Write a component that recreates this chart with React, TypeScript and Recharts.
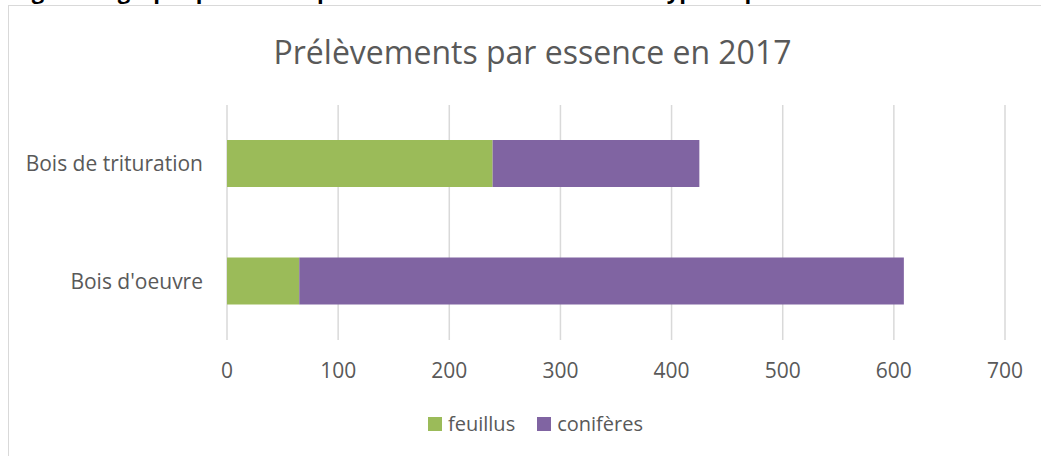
import { BarChart, Bar, XAxis, YAxis, CartesianGrid, Legend } from 'recharts';

// Prélèvements 2017
const categories = ['Bois de trituration', "Bois d'oeuvre"];
const feuillus = [239, 65];
const coniferes = [186, 544];
const xTicks = [0, 100, 200, 300, 400, 500, 600, 700];

const GREEN = '#9BBB59';
const PURPLE = '#8064A2';
const TEXT = '#595959';
const FONT = '"Open Sans", "Noto Sans", sans-serif';

const data = categories.map((type, i) => ({
  type,
  feuillus: feuillus[i],
  coniferes: coniferes[i],
}));

const legendItems = [
  { label: 'feuillus', color: GREEN },
  { label: 'conifères', color: PURPLE },
];

function LegendContent() {
  return (
    <div style={{ display: 'flex', justifyContent: 'center', alignItems: 'center', fontFamily: FONT, fontSize: 20, color: TEXT }}>
      {legendItems.map((it, i) => (
        <div key={it.label} style={{ display: 'flex', alignItems: 'center', marginRight: i === 0 ? 22 : 0 }}>
          <span style={{ width: 14, height: 14, background: it.color, display: 'inline-block', marginRight: 6 }} />
          <span>{it.label}</span>
        </div>
      ))}
    </div>
  );
}

export default function App() {
  return (
    <div style={{ position: 'absolute', left: 0, top: 0, width: 1041, height: 456, overflow: 'hidden', background: '#fff' }}>
      <div
        style={{
          position: 'absolute', left: 13, top: -21, fontFamily: FONT, fontWeight: 700,
          fontSize: 22, lineHeight: '22px', color: '#000', whiteSpace: 'nowrap',
        }}
      >
        Figure 4 : graphique de la répartition des essences selon le type de prélèvement
      </div>
      <div
        style={{
          position: 'absolute', left: 8, top: 5, width: 1100, height: 500,
          border: '1.5px solid #d9d9d9', boxSizing: 'border-box',
        }}
      />
      <div
        style={{
          position: 'absolute', left: 0, top: 31, width: 1065, textAlign: 'center',
          fontFamily: FONT, fontSize: 32, color: TEXT, lineHeight: '42px',
        }}
      >
        Prélèvements par essence en 2017
      </div>
      <div style={{ position: 'absolute', left: 0, top: 0 }}>
        <BarChart
          width={1041}
          height={456}
          data={data}
          layout="vertical"
          margin={{ top: 105, right: 36, bottom: 76, left: 0 }}
          barSize={47}
        >
          <CartesianGrid horizontal={false} stroke="#d9d9d9" strokeWidth={1.5} />
          <XAxis
            type="number"
            domain={[0, 700]}
            ticks={xTicks}
            axisLine={false}
            tickLine={false}
            tickMargin={17}
            height={40}
            tick={{ fill: TEXT, fontSize: 21, fontFamily: FONT }}
          />
          <YAxis
            type="category"
            dataKey="type"
            width={227}
            axisLine={false}
            tickLine={false}
            tickMargin={18}
            tick={{ fill: TEXT, fontSize: 21, fontFamily: FONT }}
          />
          <Legend
            layout="horizontal"
            verticalAlign="middle"
            align="center"
            content={<LegendContent />}
            wrapperStyle={{ left: 15, top: 410, width: 1041 }}
          />
          <Bar dataKey="feuillus" name="feuillus" stackId="a" fill={GREEN} isAnimationActive={false} />
          <Bar dataKey="coniferes" name="conifères" stackId="a" fill={PURPLE} isAnimationActive={false} />
        </BarChart>
      </div>
    </div>
  );
}
